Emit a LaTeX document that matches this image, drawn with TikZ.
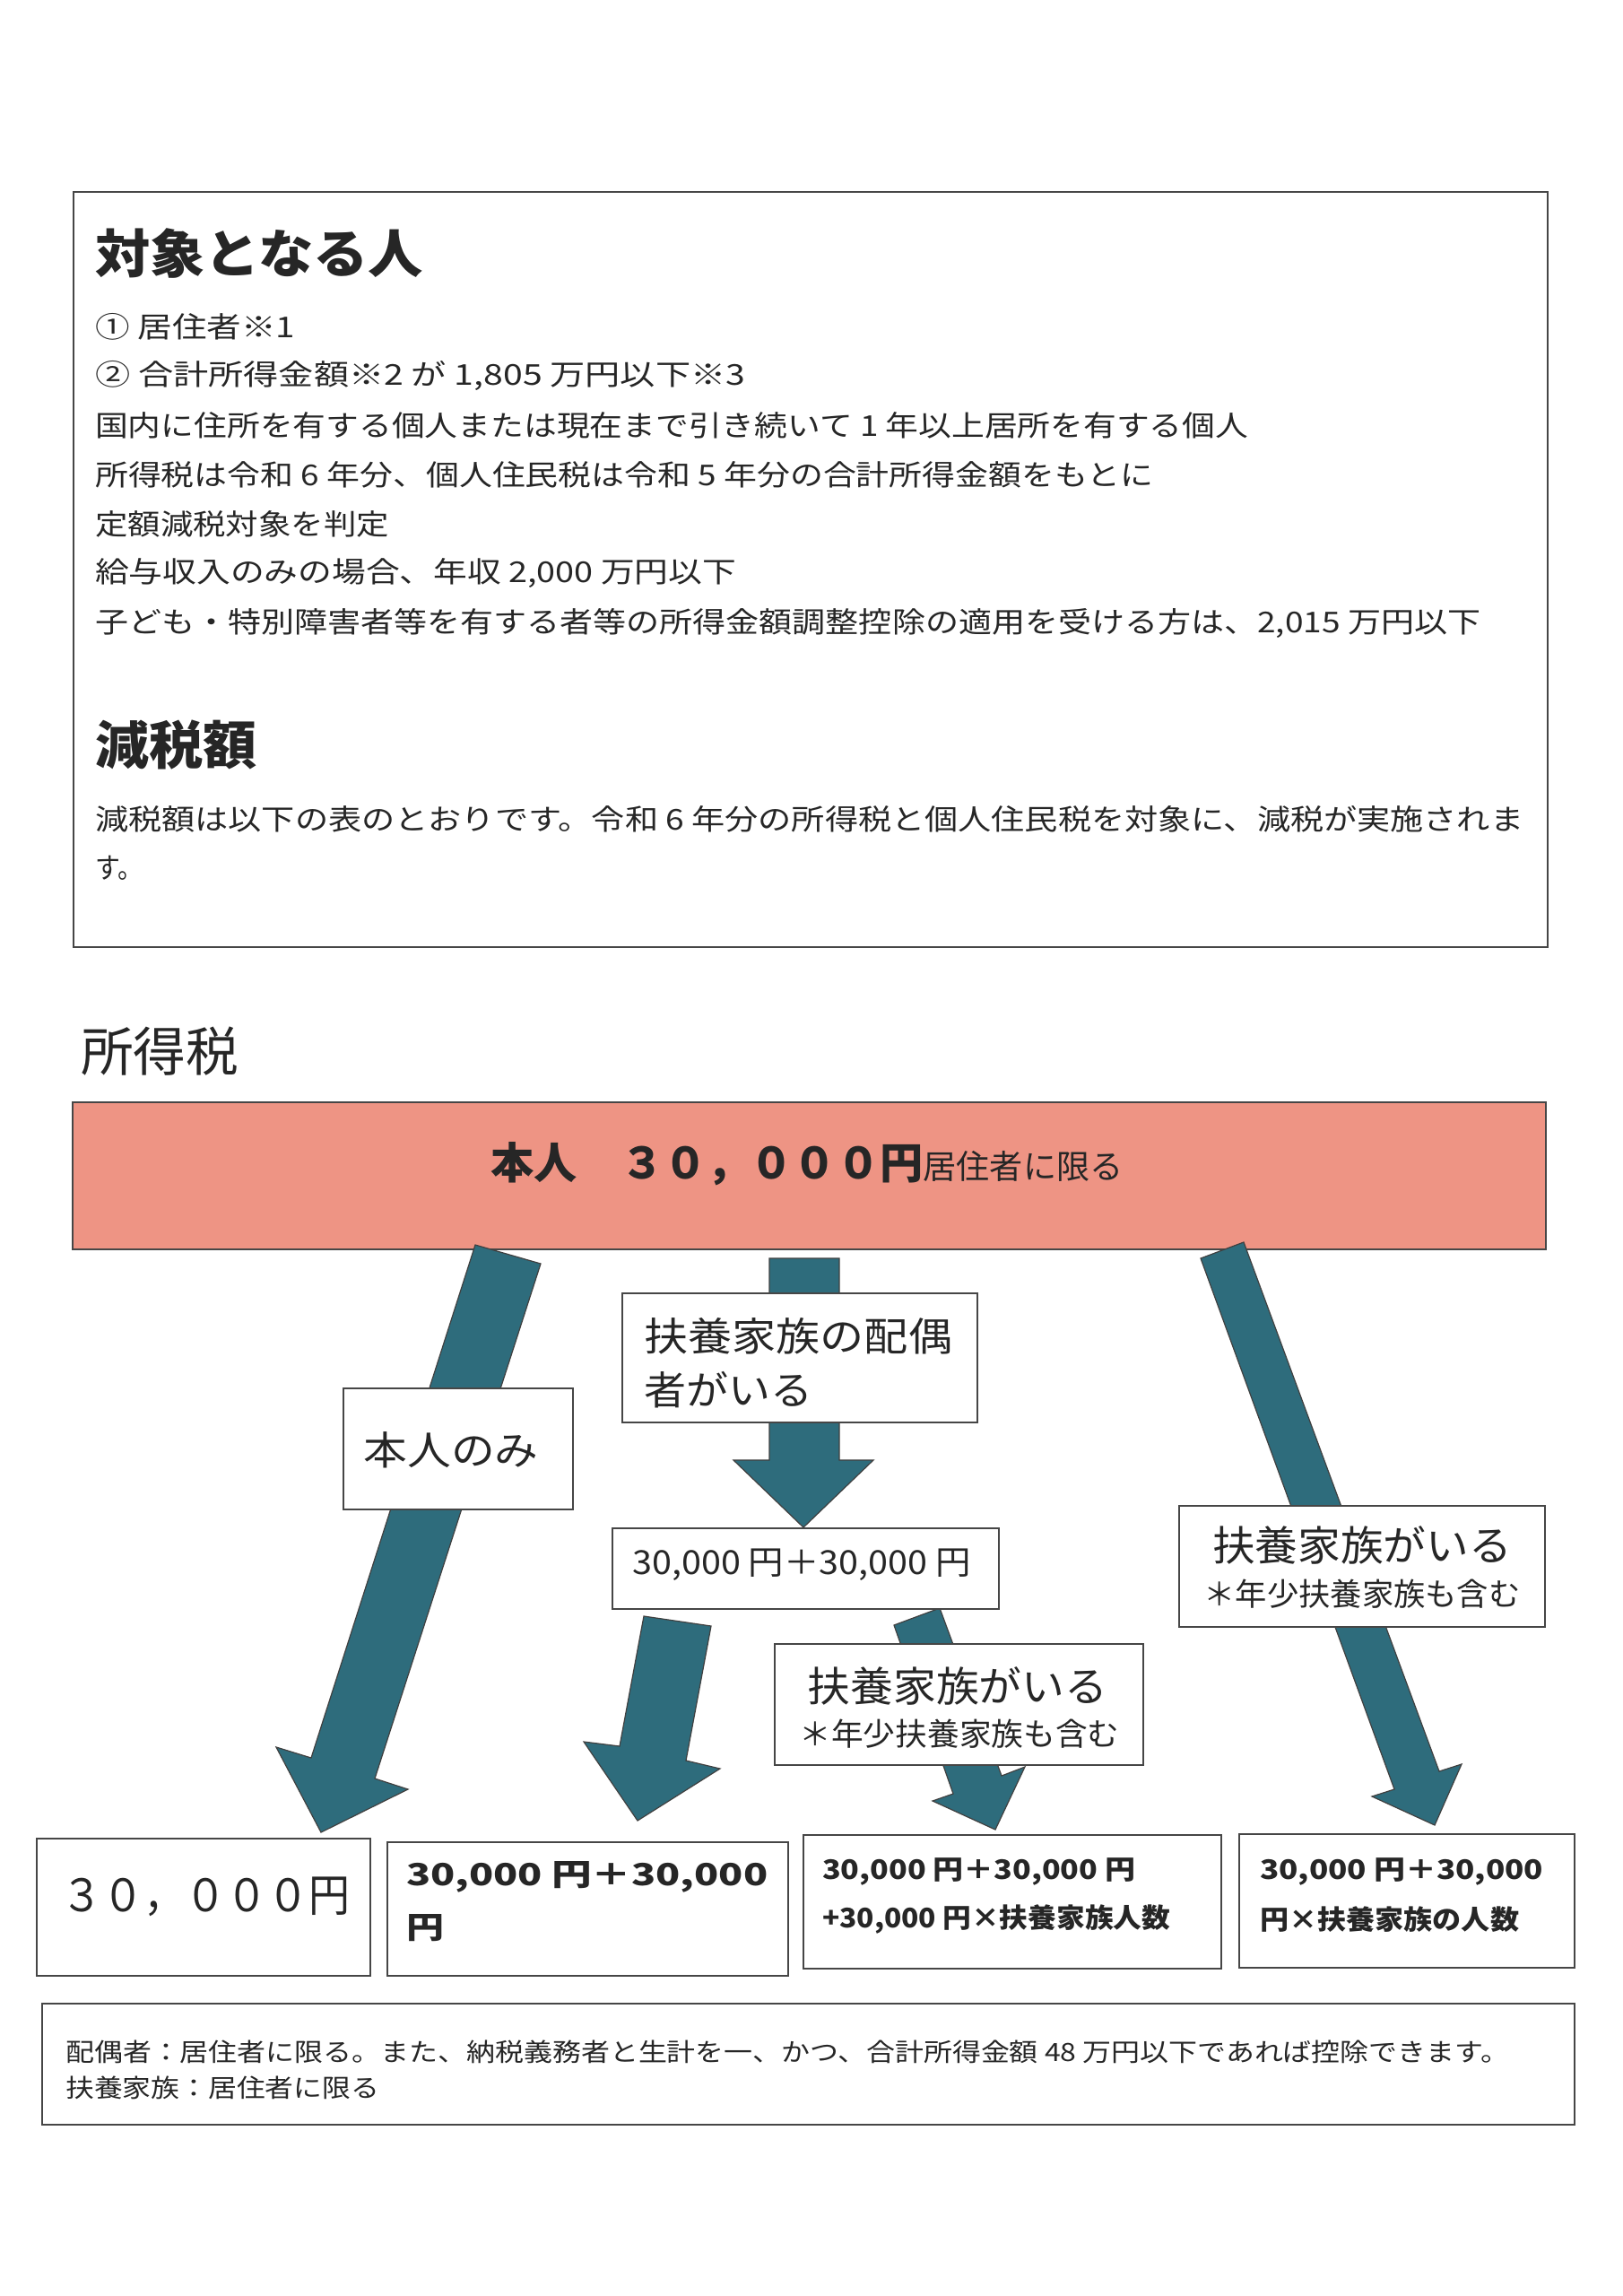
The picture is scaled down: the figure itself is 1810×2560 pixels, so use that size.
\documentclass[tikz,border=0pt]{standalone}
\usepackage{fontspec}
\usepackage{graphicx}
\setmainfont{Noto Sans CJK JP}
\newcommand{\fsz}[1]{\fontsize{#1pt}{#1pt}\selectfont}
\newcommand{\fw}[2]{\resizebox{#1pt}{\height}{#2}}
\definecolor{tealA}{RGB}{46,108,124}
\definecolor{salmonA}{RGB}{238,148,132}
\definecolor{ink}{RGB}{38,38,38}
\definecolor{frameC}{RGB}{70,70,70}
\begin{document}
\begin{tikzpicture}[x=1pt,y=-1pt,
  frame/.style={draw=frameC,line width=2.2pt,fill=white,inner sep=0pt,anchor=north west},
  txt/.style={inner sep=0pt,text=ink,anchor=west},
  ctxt/.style={inner sep=0pt,text=ink,anchor=center},
  blockarrow/.style={fill=tealA,draw=black!75,line width=1.2pt,line join=miter}]
\useasboundingbox (0,0) rectangle (1810,2560);
\fill[white] (0,0) rectangle (1810,2560);

% ---------- top box ----------
\node[frame,minimum width=1644pt,minimum height=842pt] (topbox) at (81,213) {};
\node[txt] (h1) at (106,282) {\bfseries\fsz{58}\fw{366}{対象となる人}};
\node[txt] (t1) at (106,364) {\fsz{32}\fw{223}{① 居住者※1}};
\node[txt] (t2) at (106,419) {\fsz{32}\fw{725}{② 合計所得金額※2 が 1,805 万円以下※3}};
\node[txt] (t3) at (106,474) {\fsz{32}\fw{1286}{国内に住所を有する個人または現在まで引き続いて 1 年以上居所を有する個人}};
\node[txt] (t4) at (106,529) {\fsz{32}\fw{1180}{所得税は令和 6 年分、個人住民税は令和 5 年分の合計所得金額をもとに}};
\node[txt] (t5) at (106,584) {\fsz{32}\fw{328}{定額減税対象を判定}};
\node[txt] (t6) at (106,639) {\fsz{32}\fw{715}{給与収入のみの場合、年収 2,000 万円以下}};
\node[txt] (t7) at (106,695) {\fsz{32}\fw{1545}{子ども・特別障害者等を有する者等の所得金額調整控除の適用を受ける方は、2,015 万円以下}};
\node[txt] (h2) at (106,830) {\bfseries\fsz{58}\fw{180}{減税額}};
\node[txt] (t8) at (106,913) {\fsz{32}\fw{1593}{減税額は以下の表のとおりです。令和 6 年分の所得税と個人住民税を対象に、減税が実施されま}};
\node[txt] (t9) at (106,968) {\fsz{32}\fw{53}{す。}};

% ---------- heading ----------
\node[txt] (h3) at (90,1172) {\fsz{59}\fw{176}{所得税}};

% ---------- bar ----------
\node[draw=frameC,line width=1.5pt,fill=salmonA,inner sep=0pt,anchor=north west,
      minimum width=1643pt,minimum height=164pt] (bar) at (80,1228) {};
\node[ctxt] (bartext) at (900,1298) {\fw{705}{{\bfseries\fsz{48}本人　３０，０００円}{\fsz{37}居住者に限る}}};

% ---------- block arrows ----------
\filldraw[blockarrow] (530,1388) -- (603,1409) -- (418,1983) -- (455,1995) -- (358,2043) -- (308,1948) -- (347,1960) -- cycle;
\filldraw[blockarrow] (858,1403) -- (936,1403) -- (936,1628) -- (974,1628) -- (896,1703) -- (818,1628) -- (858,1628) -- cycle;
\filldraw[blockarrow] (1339,1403) -- (1387,1385) -- (1605,1975) -- (1630,1967) -- (1600,2035) -- (1530,2003) -- (1555,1995) -- cycle;
\filldraw[blockarrow] (718,1802) -- (793,1813) -- (765,1963) -- (803,1972) -- (711,2030) -- (651,1942) -- (691,1947) -- cycle;
\filldraw[blockarrow] (997,1812) -- (1048,1793) -- (1117,1980) -- (1143,1970) -- (1110,2040) -- (1040,2008) -- (1063,2000) -- cycle;

% ---------- label boxes ----------
\node[frame,minimum width=256pt,minimum height=135pt] (self) at (382,1547) {};
\node[ctxt] (selft) at (503,1617) {\fsz{44}\fw{195}{本人のみ}};

\node[frame,minimum width=396pt,minimum height=144pt] (spouse) at (693,1441) {};
\node[txt] (spouse1) at (718,1490) {\fsz{44}\fw{344}{扶養家族の配偶}};
\node[txt] (spouse2) at (718,1550) {\fsz{44}\fw{188}{者がいる}};

\node[frame,minimum width=431pt,minimum height=90pt] (sum) at (682,1703) {};
\node[ctxt] (sumt) at (894,1745) {\fsz{37}\fw{377}{30,000 円＋30,000 円}};

\node[frame,minimum width=408pt,minimum height=135pt] (depR) at (1314,1678) {};
\node[ctxt] (depR1) at (1519,1723) {\fsz{46}\fw{334}{扶養家族がいる}};
\node[ctxt] (depR2) at (1519,1777) {\fsz{35}\fw{353}{＊年少扶養家族も含む}};

\node[frame,minimum width=411pt,minimum height=135pt] (depM) at (863,1832) {};
\node[ctxt] (depM1) at (1068,1880) {\fsz{46}\fw{335}{扶養家族がいる}};
\node[ctxt] (depM2) at (1070,1933) {\fsz{35}\fw{357}{＊年少扶養家族も含む}};

% ---------- result boxes ----------
\node[frame,minimum width=372pt,minimum height=153pt] (r1) at (40,2049) {};
\node[ctxt] (r1t) at (229,2115) {\fsz{50}\fw{322}{３０，０００円}};

\node[frame,minimum width=447pt,minimum height=149pt] (r2) at (431,2053) {};
\node[txt] (r2a) at (453,2093) {\bfseries\fsz{34}\fw{403}{30,000 円＋30,000}};
\node[txt] (r2b) at (453,2150) {\bfseries\fsz{34}\fw{42}{円}};

\node[frame,minimum width=466pt,minimum height=149pt] (r3) at (895,2045) {};
\node[txt] (r3a) at (917,2087) {\bfseries\fsz{30}\fw{349}{30,000 円＋30,000 円}};
\node[txt] (r3b) at (917,2140) {\bfseries\fsz{30}\fw{388}{+30,000 円×扶養家族人数}};

\node[frame,minimum width=374pt,minimum height=149pt] (r4) at (1381,2044) {};
\node[txt] (r4a) at (1405,2087) {\bfseries\fsz{30}\fw{316}{30,000 円＋30,000}};
\node[txt] (r4b) at (1405,2140) {\bfseries\fsz{30}\fw{289}{円×扶養家族の人数}};

% ---------- note ----------
\node[frame,minimum width=1709pt,minimum height=135pt] (note) at (46,2233) {};
\node[txt] (n1) at (73,2288) {\fsz{28}\fw{1610}{配偶者：居住者に限る。また、納税義務者と生計を一、かつ、合計所得金額 48 万円以下であれば控除できます。}};
\node[txt] (n2) at (73,2328) {\fsz{28}\fw{350}{扶養家族：居住者に限る}};
\end{tikzpicture}
\end{document}
